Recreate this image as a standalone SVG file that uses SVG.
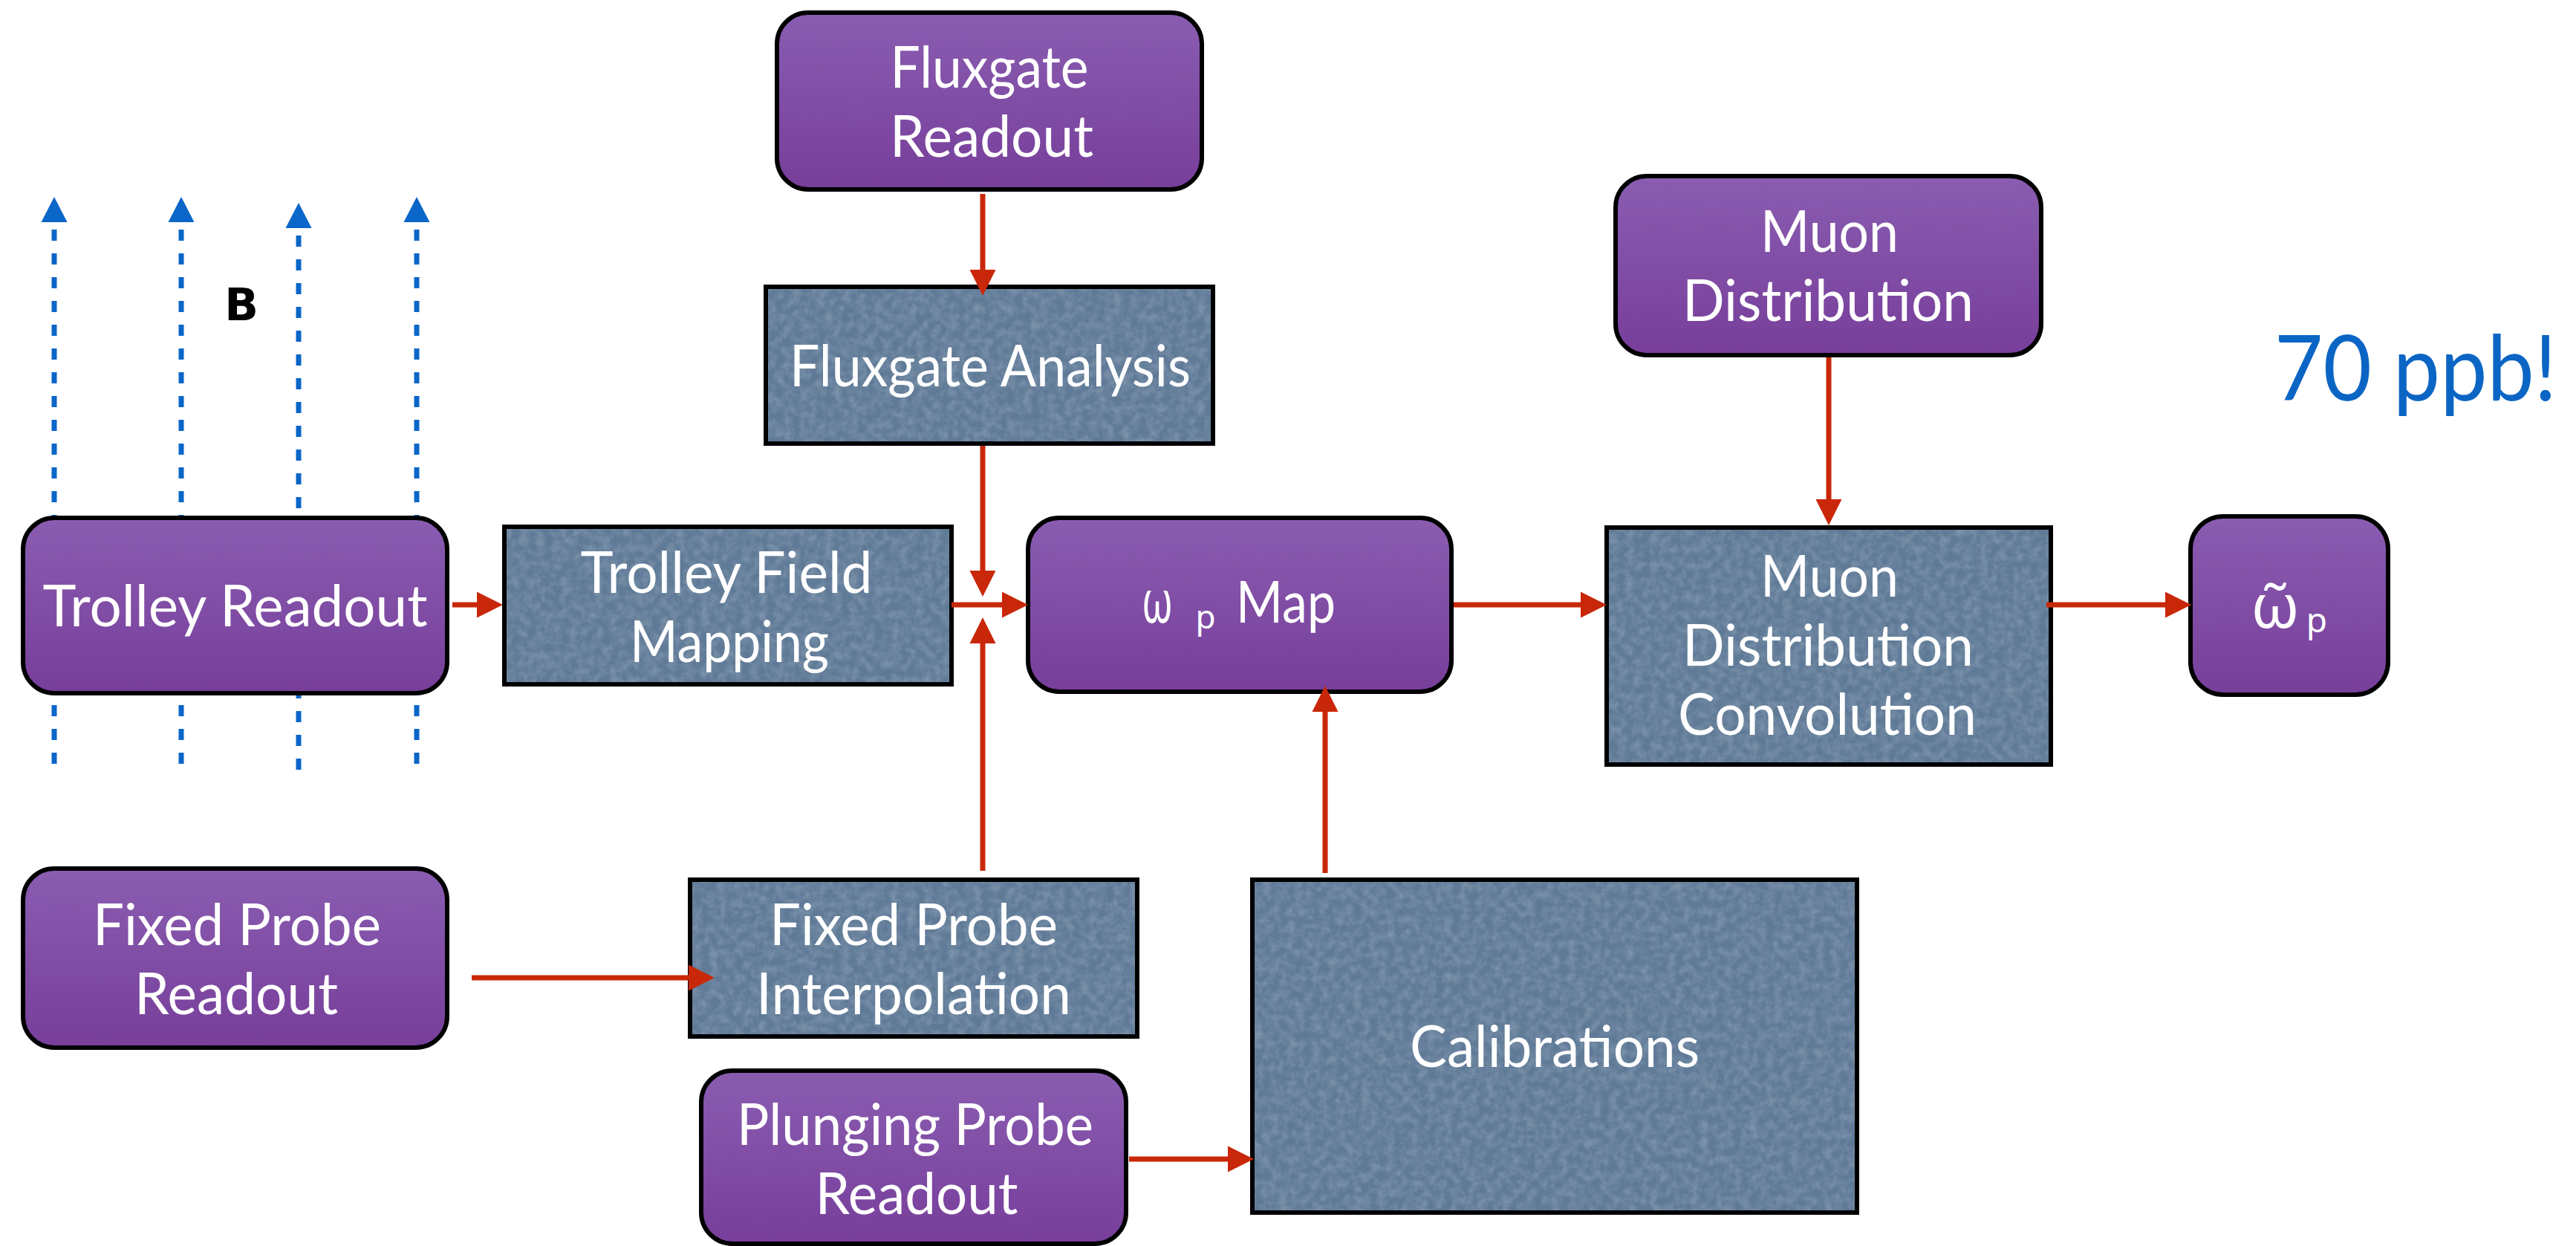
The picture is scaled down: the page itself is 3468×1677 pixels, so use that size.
<svg xmlns="http://www.w3.org/2000/svg" width="3468" height="1677" viewBox="0 0 3468 1677">
<defs>
<linearGradient id="purple" x1="0" y1="0" x2="0" y2="1">
<stop offset="0" stop-color="#8A5DB1"/>
<stop offset="1" stop-color="#773E9A"/>
</linearGradient>
<filter id="paper" x="0" y="0" width="1" height="1">
<feTurbulence type="fractalNoise" baseFrequency="0.09" numOctaves="3" seed="4" result="n"/>
<feColorMatrix in="n" type="matrix" values="0 0 0 0 1  0 0 0 0 1  0 0 0 0 1  0 0 0 0.35 -0.12" result="w"/>
<feComposite in="w" in2="SourceGraphic" operator="in"/>
</filter>
<marker id="ah" markerUnits="userSpaceOnUse" markerWidth="36" markerHeight="36" refX="0" refY="17.5" orient="auto" overflow="visible">
<path d="M0,0 L35,17.5 L0,35 Z" fill="#C92709"/>
</marker>
<style>
.node-r { fill: url(#purple); stroke: #000; stroke-width: 6; }
.node-b { fill: #5F7A97; stroke: #000; stroke-width: 6; }
.tex { fill: #5F7A97; filter: url(#paper); }
.lbl { font-family: Lato, "Open Sans", "DejaVu Sans", sans-serif; font-size: 78px; fill: #fff; text-anchor: middle; }
.gr { font-family: "Noto Sans", "DejaVu Sans", sans-serif; fill: #fff; text-anchor: middle; }
.conn { stroke: #C92709; stroke-width: 7; fill: none; marker-end: url(#ah); }
.field { stroke: #0A66C8; stroke-width: 7; stroke-dasharray: 15 17; fill: none; }
.fhead { fill: #0A66C8; }
</style>
</defs>
<rect width="3468" height="1677" fill="#fff"/>

<g id="field-lines">
<line class="field" x1="73" y1="309" x2="73" y2="1028"/>
<line class="field" x1="244" y1="309" x2="244" y2="1028"/>
<line class="field" x1="402" y1="317" x2="402" y2="1036"/>
<line class="field" x1="561" y1="309" x2="561" y2="1028"/>
<polygon class="fhead" points="73,265 90.5,299 55.5,299"/>
<polygon class="fhead" points="244,265 261.5,299 226.5,299"/>
<polygon class="fhead" points="402,273 419.5,307 384.5,307"/>
<polygon class="fhead" points="561,265 578.5,299 543.5,299"/>
<text x="325" y="431" font-family="DejaVu Sans, sans-serif" font-weight="bold" font-size="60" text-anchor="middle" fill="#000">B</text>
</g>

<g id="trolley-readout">
<rect class="node-r" x="31" y="697" width="571" height="236" rx="42"/>
<text class="lbl" x="316.5" y="843" textLength="518" lengthAdjust="spacingAndGlyphs">Trolley Readout</text>
</g>

<g id="trolley-field-mapping">
<rect class="node-b" x="679" y="709" width="602" height="212"/>
<rect class="tex" x="682" y="712" width="596" height="206"/>
<text class="lbl" x="978" y="798" textLength="393" lengthAdjust="spacingAndGlyphs">Trolley Field</text>
<text class="lbl" x="982" y="891" textLength="268" lengthAdjust="spacingAndGlyphs">Mapping</text>
</g>

<g id="fluxgate-readout">
<rect class="node-r" x="1046" y="17" width="572" height="238" rx="42"/>
<text class="lbl" x="1332" y="118" textLength="267" lengthAdjust="spacingAndGlyphs">Fluxgate</text>
<text class="lbl" x="1335" y="211" textLength="274" lengthAdjust="spacingAndGlyphs">Readout</text>
</g>

<g id="fluxgate-analysis">
<rect class="node-b" x="1031" y="386" width="602" height="211"/>
<rect class="tex" x="1034" y="389" width="596" height="205"/>
<text class="lbl" x="1333" y="520" textLength="540" lengthAdjust="spacingAndGlyphs">Fluxgate Analysis</text>
</g>

<g id="omega-p-map">
<rect class="node-r" x="1384" y="697" width="570" height="234" rx="42"/>
<text class="gr" x="1558" y="838" style="font-size:80px" textLength="42" lengthAdjust="spacingAndGlyphs">ω</text>
<text class="gr" x="1623" y="846" style="font-size:44px">p</text>
<text class="lbl" x="1731" y="838" textLength="134" lengthAdjust="spacingAndGlyphs">Map</text>
</g>

<g id="fixed-probe-readout">
<rect class="node-r" x="31" y="1169" width="571" height="241" rx="42"/>
<text class="lbl" x="319" y="1272" textLength="388" lengthAdjust="spacingAndGlyphs">Fixed Probe</text>
<text class="lbl" x="318" y="1365" textLength="274" lengthAdjust="spacingAndGlyphs">Readout</text>
</g>

<g id="fixed-probe-interpolation">
<rect class="node-b" x="929" y="1184" width="602" height="211"/>
<rect class="tex" x="932" y="1187" width="596" height="205"/>
<text class="lbl" x="1230" y="1272" textLength="388" lengthAdjust="spacingAndGlyphs">Fixed Probe</text>
<text class="lbl" x="1230" y="1365" textLength="424" lengthAdjust="spacingAndGlyphs">Interpolation</text>
</g>

<g id="plunging-probe-readout">
<rect class="node-r" x="944" y="1441" width="572" height="233" rx="42"/>
<text class="lbl" x="1232" y="1541" textLength="480" lengthAdjust="spacingAndGlyphs">Plunging Probe</text>
<text class="lbl" x="1234" y="1634" textLength="273" lengthAdjust="spacingAndGlyphs">Readout</text>
</g>

<g id="calibrations">
<rect class="node-b" x="1686" y="1184" width="814" height="448"/>
<rect class="tex" x="1689" y="1187" width="808" height="442"/>
<text class="lbl" x="2093" y="1436" textLength="390" lengthAdjust="spacingAndGlyphs">Calibrations</text>
</g>

<g id="muon-distribution">
<rect class="node-r" x="2175" y="237" width="573" height="241" rx="42"/>
<text class="lbl" x="2463" y="339" textLength="186" lengthAdjust="spacingAndGlyphs">Muon</text>
<text class="lbl" x="2461" y="432" textLength="392" lengthAdjust="spacingAndGlyphs">Distribution</text>
</g>

<g id="muon-distribution-convolution">
<rect class="node-b" x="2163" y="710" width="598" height="319"/>
<rect class="tex" x="2166" y="713" width="592" height="313"/>
<text class="lbl" x="2463" y="803" textLength="186" lengthAdjust="spacingAndGlyphs">Muon</text>
<text class="lbl" x="2461" y="896" textLength="392" lengthAdjust="spacingAndGlyphs">Distribution</text>
<text class="lbl" x="2460" y="989" textLength="402" lengthAdjust="spacingAndGlyphs">Convolution</text>
</g>

<g id="omega-p-tilde">
<rect class="node-r" x="2949" y="695" width="266" height="240" rx="44"/>
<text class="gr" x="3063" y="845" style="font-size:82px">ω̃</text>
<text class="gr" x="3119" y="851" style="font-size:46px">p</text>
</g>

<g id="ppb-note">
<text x="3062" y="539" font-family="Lato, 'Open Sans', sans-serif" font-size="122" fill="#0B65C4" textLength="380" lengthAdjust="spacingAndGlyphs">70 ppb!</text>
</g>

<g id="connectors">
<line class="conn" x1="609" y1="814" x2="642" y2="814"/>
<line class="conn" x1="1323" y1="261" x2="1323" y2="363"/>
<line class="conn" x1="1323" y1="600" x2="1323" y2="768"/>
<line class="conn" x1="1281" y1="814" x2="1349" y2="814"/>
<line class="conn" x1="1323" y1="1172" x2="1323" y2="866"/>
<line class="conn" x1="635" y1="1316" x2="927" y2="1316"/>
<line class="conn" x1="1520" y1="1560" x2="1653" y2="1560"/>
<line class="conn" x1="1784" y1="1175" x2="1784" y2="958"/>
<line class="conn" x1="1957" y1="814" x2="2128" y2="814"/>
<line class="conn" x1="2462" y1="481" x2="2462" y2="672"/>
<line class="conn" x1="2755" y1="814" x2="2915" y2="814"/>
</g>
</svg>
